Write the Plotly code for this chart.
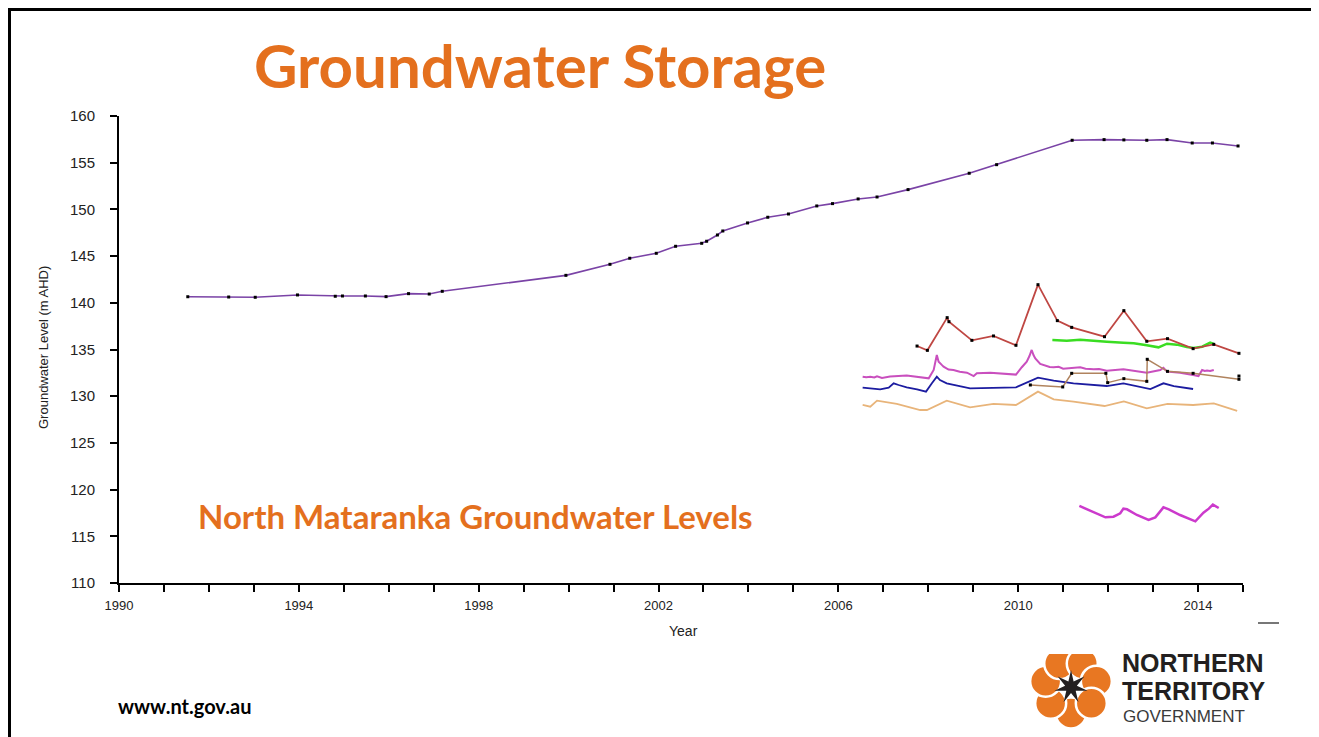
import math
import plotly.graph_objects as go

# main bore (long record)
main_years = [1991.53, 1992.44, 1993.03, 1993.97, 1994.81, 1994.97, 1995.48, 1995.94, 1996.44, 1996.90,
              1997.19, 1999.94, 2000.92, 2001.36, 2001.95, 2002.38, 2002.96, 2003.07, 2003.31, 2003.43,
              2003.98, 2004.43, 2004.89, 2005.52, 2005.87, 2006.44, 2006.86, 2007.55, 2008.91, 2009.52,
              2011.20, 2011.91, 2012.35, 2012.86, 2013.31, 2013.87, 2014.32, 2014.89]
main_level = [140.65, 140.62, 140.59, 140.84, 140.70, 140.73, 140.73, 140.66, 140.98, 140.94,
              141.23, 142.94, 144.12, 144.77, 145.30, 146.05, 146.37, 146.59, 147.26, 147.69,
              148.55, 149.16, 149.51, 150.37, 150.62, 151.12, 151.33, 152.12, 153.87, 154.79,
              157.40, 157.47, 157.44, 157.40, 157.47, 157.11, 157.11, 156.79]

red_years = [2007.75, 2007.98, 2008.42, 2008.46, 2008.97, 2009.45, 2009.95, 2010.44, 2010.87, 2011.19,
             2011.92, 2012.35, 2012.86, 2013.32, 2013.89, 2014.35, 2014.91]
red_level = [135.37, 134.91, 138.41, 137.98, 135.98, 136.45, 135.45, 141.94, 138.09, 137.37,
             136.37, 139.16, 135.88, 136.16, 135.09, 135.55, 134.59]

green_years = [2010.76, 2011.08, 2011.38, 2011.68, 2011.97, 2012.34, 2012.57, 2012.86, 2013.12, 2013.31,
               2013.53, 2013.75, 2013.90, 2014.09, 2014.27, 2014.35]
green_level = [136.02, 135.95, 136.05, 135.91, 135.84, 135.73, 135.66, 135.45, 135.23, 135.62,
               135.52, 135.27, 135.16, 135.30, 135.73, 135.59]

mag_years = [2006.54, 2006.62, 2006.71, 2006.80, 2006.86, 2006.97, 2007.15, 2007.52, 2008.01, 2008.12,
             2008.19, 2008.23, 2008.30, 2008.34, 2008.45, 2008.56, 2008.70, 2008.86, 2009.01, 2009.08,
             2009.38, 2009.75, 2009.95, 2010.08, 2010.19, 2010.25, 2010.30, 2010.34, 2010.38, 2010.49,
             2010.60, 2010.70, 2010.79, 2010.90, 2011.00, 2011.08, 2011.20, 2011.38, 2011.50, 2011.68,
             2011.80, 2011.97, 2012.34, 2012.86, 2013.16, 2013.23, 2013.31, 2013.60, 2013.89, 2014.01,
             2014.09, 2014.15, 2014.20, 2014.27, 2014.35]
mag_level = [132.09, 132.02, 132.08, 132.00, 132.13, 131.95, 132.10, 132.22, 131.91, 132.81,
             134.41, 133.70, 133.35, 133.16, 132.85, 132.80, 132.62, 132.52, 132.16, 132.45,
             132.52, 132.38, 132.31, 133.10, 133.70, 134.30, 134.95, 134.40, 134.05, 133.45,
             133.25, 133.12, 133.09, 133.15, 132.95, 132.98, 133.05, 133.09, 132.95, 132.88,
             132.92, 132.73, 132.88, 132.52, 132.81, 133.05, 132.63, 132.52, 132.27, 132.16,
             132.81, 132.70, 132.76, 132.70, 132.81]

blue_years = [2006.54, 2006.70, 2006.78, 2006.93, 2007.12, 2007.23, 2007.34, 2007.52, 2007.75, 2007.95,
              2008.08, 2008.19, 2008.26, 2008.41, 2008.93, 2009.95, 2010.44, 2010.79, 2011.23, 2011.97,
              2012.34, 2012.71, 2012.94, 2013.23, 2013.46, 2013.89]
blue_level = [130.91, 130.84, 130.88, 130.74, 130.91, 131.38, 131.20, 130.95, 130.74, 130.49,
              131.38, 132.09, 131.73, 131.38, 130.84, 130.95, 131.98, 131.66, 131.38, 131.09,
              131.38, 131.02, 130.77, 131.38, 131.09, 130.77]

tan_years = [2006.54, 2006.71, 2006.86, 2007.30, 2007.82, 2007.97, 2008.41, 2008.93, 2009.45, 2009.95,
             2010.44, 2010.79, 2011.23, 2011.92, 2012.35, 2012.86, 2013.32, 2013.89, 2014.35, 2014.87]
tan_level = [129.06, 128.88, 129.52, 129.17, 128.52, 128.52, 129.52, 128.81, 129.17, 129.06,
             130.49, 129.66, 129.42, 128.95, 129.45, 128.70, 129.17, 129.06, 129.24, 128.42]

brown_years = [2010.27, 2010.99, 2011.19, 2011.95, 2011.99, 2012.35, 2012.86, 2012.87, 2013.32, 2013.89, 2014.91]
brown_level = [131.20, 130.99, 132.45, 132.45, 131.45, 131.88, 131.59, 133.95, 132.66, 132.45, 131.81]
lone_year = [2014.91]
lone_level = [132.16]

low_years = [2011.36, 2011.60, 2011.94, 2012.12, 2012.27, 2012.34, 2012.42, 2012.64, 2012.90, 2013.05,
             2013.23, 2013.35, 2013.60, 2013.94, 2014.12, 2014.24, 2014.33, 2014.46]
low_level = [118.25, 117.75, 117.03, 117.10, 117.46, 117.96, 117.89, 117.28, 116.75, 117.03,
             118.10, 117.89, 117.28, 116.60, 117.53, 117.96, 118.39, 118.03]

ORANGE = "#E4701E"
OFF = 8  # page body margin
L, R, T, B = 119, 1243, 116, 583


def px(x):
    return (x - L) / (R - L)


def py(y):
    return (B - y) / (B - T)


fig = go.Figure()
dot = dict(symbol="square", size=3, color="black")
fig.add_trace(go.Scatter(x=main_years, y=main_level, mode="lines+markers",
                         line=dict(color="#7A43A6", width=1.6), marker=dot))
fig.add_trace(go.Scatter(x=tan_years, y=tan_level, mode="lines", line=dict(color="#E8B47A", width=1.8)))
fig.add_trace(go.Scatter(x=blue_years, y=blue_level, mode="lines", line=dict(color="#1C1CA0", width=1.8)))
fig.add_trace(go.Scatter(x=mag_years, y=mag_level, mode="lines", line=dict(color="#C94FBE", width=2)))
fig.add_trace(go.Scatter(x=brown_years, y=brown_level, mode="lines+markers",
                         line=dict(color="#B0835E", width=1.5), marker=dot))
fig.add_trace(go.Scatter(x=lone_year, y=lone_level, mode="markers", marker=dot))
fig.add_trace(go.Scatter(x=green_years, y=green_level, mode="lines", line=dict(color="#3ADD22", width=2.5)))
fig.add_trace(go.Scatter(x=red_years, y=red_level, mode="lines+markers",
                         line=dict(color="#BF4743", width=1.8), marker=dot))
fig.add_trace(go.Scatter(x=low_years, y=low_level, mode="lines", line=dict(color="#CC3ACC", width=2.5)))

fig.update_xaxes(range=[1990, 2015], dtick=4, tick0=1990, showgrid=False, zeroline=False,
                 showline=True, linecolor="black", linewidth=2, ticks="outside", ticklen=7,
                 tickwidth=2, tickcolor="black", ticklabelstandoff=2,
                 tickfont=dict(family="Liberation Sans, Arial", size=13, color="#222"),
                 minor=dict(dtick=1, ticks="outside", ticklen=7, tickwidth=2, tickcolor="black"))
fig.update_yaxes(range=[110, 160], dtick=5, showgrid=False, zeroline=False,
                 showline=True, linecolor="black", linewidth=2, ticks="outside", ticklen=7,
                 tickwidth=2, tickcolor="black", ticklabelstandoff=12,
                 tickfont=dict(family="Liberation Sans, Arial", size=15, color="#222"))

shapes = []
# slide frame
shapes.append(dict(type="rect", xref="paper", yref="paper", x0=px(9.5), x1=px(1313), y0=py(760), y1=py(9.5),
                   line=dict(color="black", width=3)))
# small dash
shapes.append(dict(type="line", xref="paper", yref="paper", x0=px(1258), x1=px(1279), y0=py(623), y1=py(623),
                   line=dict(color="#777", width=2)))

# logo flower
cx, cy = 1071, 687
for k in range(7):
    a = math.radians(90 + k * 360 / 7)
    pcx, pcy = cx + 26 * math.cos(a), cy + 26 * math.sin(a)
    shapes.append(dict(type="circle", xref="paper", yref="paper",
                       x0=px(pcx - 15.5), x1=px(pcx + 15.5), y0=py(pcy + 15.5), y1=py(pcy - 15.5),
                       fillcolor="#E87722", line=dict(color="white", width=2.5)))
shapes.append(dict(type="rect", xref="paper", yref="paper", x0=px(1025), x1=px(1120), y0=py(654), y1=py(630),
                   fillcolor="white", line=dict(width=0)))
pts = []
for k in range(14):
    a = math.radians(-90 + k * 180 / 7)
    r = 17 if k % 2 == 0 else 6
    pts.append((px(cx + r * math.cos(a)), py(cy + r * math.sin(a))))
star = "M " + " L ".join(f"{x:.5f},{y:.5f}" for x, y in pts) + " Z"
shapes.append(dict(type="path", xref="paper", yref="paper", path=star,
                   fillcolor="#231F20", line=dict(width=0)))


def note(text, x, y, size, family="Lato", color=ORANGE, weight="bold", xanchor="center", angle=0):
    return dict(text=text, xref="paper", yref="paper", x=px(x), y=py(y), xanchor=xanchor, yanchor="middle",
                showarrow=False, textangle=angle, borderpad=0,
                font=dict(family=family, size=size, color=color, weight=weight))


LOGO_FONT = "Liberation Sans, Arial"
annotations = [
    note("Groundwater Storage", 540, 65, 60),
    note("North Mataranka Groundwater Levels", 475, 516, 33),
    note("www.nt.gov.au", 117, 706, 20, color="black", xanchor="left"),
    note("Year", 683, 631, 14, family=LOGO_FONT, color="#222", weight="normal"),
    note("Groundwater Level (m AHD)", 43, 348, 13, family=LOGO_FONT, color="#222",
         weight="normal", angle=-90),
    note("NORTHERN", 1121, 662.5, 25, family=LOGO_FONT, color="#231F20", xanchor="left"),
    note("TERRITORY", 1121, 691, 25, family=LOGO_FONT, color="#231F20", xanchor="left"),
    note("GOVERNMENT", 1122, 716, 17, family=LOGO_FONT, color="#3A3A3A", weight="normal", xanchor="left"),
]

fig.update_layout(
    width=1319 - OFF, height=737 - OFF,
    margin=dict(l=L - OFF, r=1319 - R, t=T - OFF, b=737 - B),
    paper_bgcolor="white", plot_bgcolor="white",
    showlegend=False,
    shapes=shapes,
    annotations=annotations,
)

fig.write_html("out.html")
